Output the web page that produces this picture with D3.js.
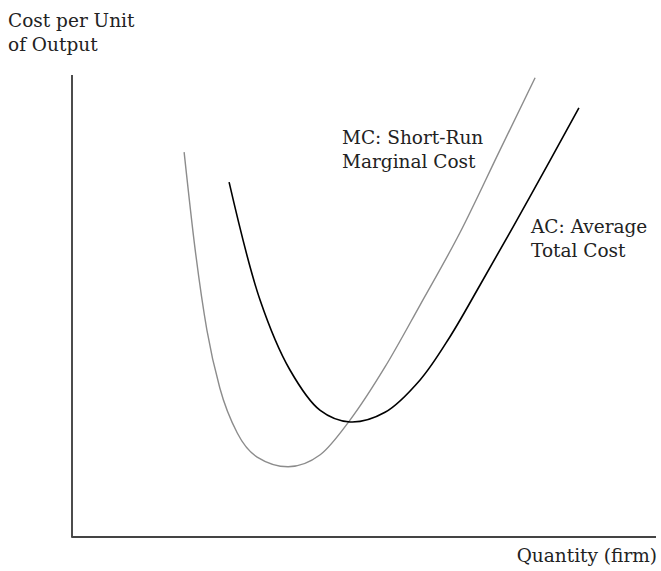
<!DOCTYPE html>
<html>
<head>
<meta charset="utf-8">
<script src="https://cdn.jsdelivr.net/npm/d3@7"></script>
<style>
  html, body { margin: 0; padding: 0; background: #fff; }
  svg { display: block; }
  text { font-family: "DejaVu Serif", "Liberation Serif", serif; fill: #222; }
</style>
</head>
<body>
<svg id="chart" width="661" height="571"></svg>
<script>
// Quantity (x) and cost (y) values, in arbitrary units 0..100
const mcQuantity = [19.2, 21.1, 23.1, 25.3, 28.3, 31.7, 37.0, 42.5, 47.6, 53.6, 59.6, 66.4, 73.3, 79.3];
const mcCost     = [83.3, 62.1, 44.8, 32.3, 22.5, 17.3, 15.2, 17.8, 25.3, 36.8, 50.2, 65.8, 83.8, 99.4];
const acQuantity = [26.9, 32.2, 37.3, 42.5, 47.6, 53.6, 59.6, 64.7, 69.9, 78.4, 86.8];
const acCost     = [76.8, 51.3, 36.2, 27.4, 24.9, 27.0, 34.0, 43.3, 54.6, 73.6, 92.9];
const yAxisLabel = ["Cost per Unit", "of Output"];
const xAxisLabel = "Quantity (firm)";
const mcLabel = ["MC: Short-Run", "Marginal Cost"];
const acLabel = ["AC: Average", "Total Cost"];

const svg = d3.select("#chart");
const x = d3.scaleLinear().domain([0, 100]).range([72, 656]);
const y = d3.scaleLinear().domain([0, 100]).range([537, 75]);

// axes
svg.append("line").attr("x1", x(0)).attr("x2", x(0)).attr("y1", y(100)).attr("y2", y(0))
  .attr("stroke", "#111").attr("stroke-width", 1.5);
svg.append("line").attr("x1", x(0) - 0.75).attr("x2", x(100)).attr("y1", y(0)).attr("y2", y(0))
  .attr("stroke", "#444").attr("stroke-width", 2);

const mcLine = d3.line().x(d => x(d[0])).y(d => y(d[1])).curve(d3.curveMonotoneX);
const acLine = d3.line().x(d => x(d[0])).y(d => y(d[1])).curve(d3.curveCatmullRom.alpha(0.5));

const mc = mcQuantity.map((q, i) => [q, mcCost[i]]);
const ac = acQuantity.map((q, i) => [q, acCost[i]]);

svg.append("path").attr("d", mcLine(mc)).attr("fill", "none")
  .attr("stroke", "#8c8c8c").attr("stroke-width", 1.4);
svg.append("path").attr("d", acLine(ac)).attr("fill", "none")
  .attr("stroke", "#000").attr("stroke-width", 1.6);

const fs = 18.5;
function multi(lines, px, py, anchor) {
  const t = svg.append("text").attr("x", px).attr("y", py)
    .attr("font-size", fs).attr("text-anchor", anchor || "start");
  lines.forEach((s, i) => t.append("tspan").attr("x", px).attr("dy", i === 0 ? 0 : 24).text(s));
}
multi(yAxisLabel, 8, 27);
multi(mcLabel, 342, 144);
multi(acLabel, 531, 233);
multi([xAxisLabel], 657, 562, "end");
</script>
</body>
</html>
